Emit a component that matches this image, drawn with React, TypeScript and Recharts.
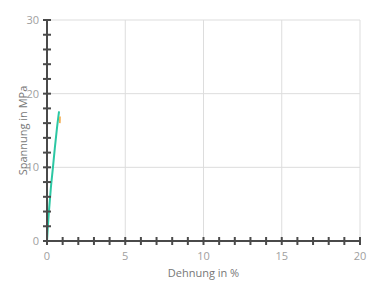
import React from 'react';
import { LineChart, Line, XAxis, YAxis, ReferenceLine, Label } from 'recharts';

// Messkurve (Dehnung in %, Spannung in MPa)
const dehnung = [0, 0.05, 0.13, 0.25, 0.38, 0.5, 0.63, 0.77];
const spannung = [0, 1.8, 4.2, 7.3, 10, 12.6, 15.2, 17.6];

// kurzes orangefarbenes Stück am Kurvenende
const endDehnung = [0.82, 0.83];
const endSpannung = [16.0, 16.9];

const xTicks = Array.from({ length: 21 }, (_, i) => i);
const yTicks = Array.from({ length: 16 }, (_, i) => i * 2);
const xGrid = [5, 10, 15, 20];
const yGrid = [10, 20, 30];

const kurve = dehnung.map((d, i) => ({ x: d, y: spannung[i] }));
const kurveEnde = endDehnung.map((d, i) => ({ x: d, y: endSpannung[i] }));

const AXIS = '#4a4a4a';
const FONT = '"Open Sans", "Noto Sans", sans-serif';

const XTick = (props: any) => {
  const { x, y, payload } = props;
  const v = payload.value;
  return (
    <g>
      <line x1={x} x2={x} y1={y - 4} y2={y + 4} stroke={AXIS} strokeWidth={2} />
      {v % 5 === 0 && (
        <text x={x} y={y + 19} textAnchor="middle" fill="#a0a0a0" fontSize={11} fontFamily={FONT}>
          {v}
        </text>
      )}
    </g>
  );
};

const YTick = (props: any) => {
  const { x, y, payload } = props;
  const v = payload.value;
  return (
    <g>
      <line x1={x - 4} x2={x + 4} y1={y} y2={y} stroke={AXIS} strokeWidth={2} />
      {v % 10 === 0 && (
        <text x={x - 8} y={y + 4} textAnchor="end" fill="#a0a0a0" fontSize={11} fontFamily={FONT}>
          {v}
        </text>
      )}
    </g>
  );
};

export default function App() {
  return (
    <LineChart width={376} height={284} margin={{ top: 12, right: 24, bottom: 11, left: 0 }}>
      {xGrid.map((v) => (
        <ReferenceLine key={'gx' + v} x={v} stroke="#dddddd" strokeWidth={1} />
      ))}
      {yGrid.map((v) => (
        <ReferenceLine key={'gy' + v} y={v} stroke="#dddddd" strokeWidth={1} />
      ))}
      <XAxis
        type="number"
        dataKey="x"
        domain={[0, 20]}
        ticks={xTicks}
        interval={0}
        height={40}
        tickSize={0}
        tickMargin={0}
        tickLine={false}
        tick={<XTick />}
        axisLine={{ stroke: AXIS, strokeWidth: 2 }}
        allowDataOverflow
      >
        <Label value="Dehnung in %" position="insideBottom" offset={4} fill="#777" fontSize={11} fontFamily={FONT} />
      </XAxis>
      <YAxis
        type="number"
        dataKey="y"
        domain={[0, 30]}
        ticks={yTicks}
        interval={0}
        width={39}
        tickSize={0}
        tickMargin={0}
        tickLine={false}
        tick={<YTick />}
        axisLine={{ stroke: AXIS, strokeWidth: 2 }}
        allowDataOverflow
      >
        <Label value="Spannung in MPa" angle={-90} position="center" dx={-4} fill="#777" fontSize={11} fontFamily={FONT} />
      </YAxis>
      <Line
        data={kurve}
        dataKey="y"
        type="monotone"
        stroke="#2cc7a3"
        strokeWidth={2}
        dot={false}
        isAnimationActive={false}
      />
      <Line
        data={kurveEnde}
        dataKey="y"
        type="linear"
        stroke="#f2a23a"
        strokeWidth={1.5}
        dot={false}
        isAnimationActive={false}
      />
    </LineChart>
  );
}
